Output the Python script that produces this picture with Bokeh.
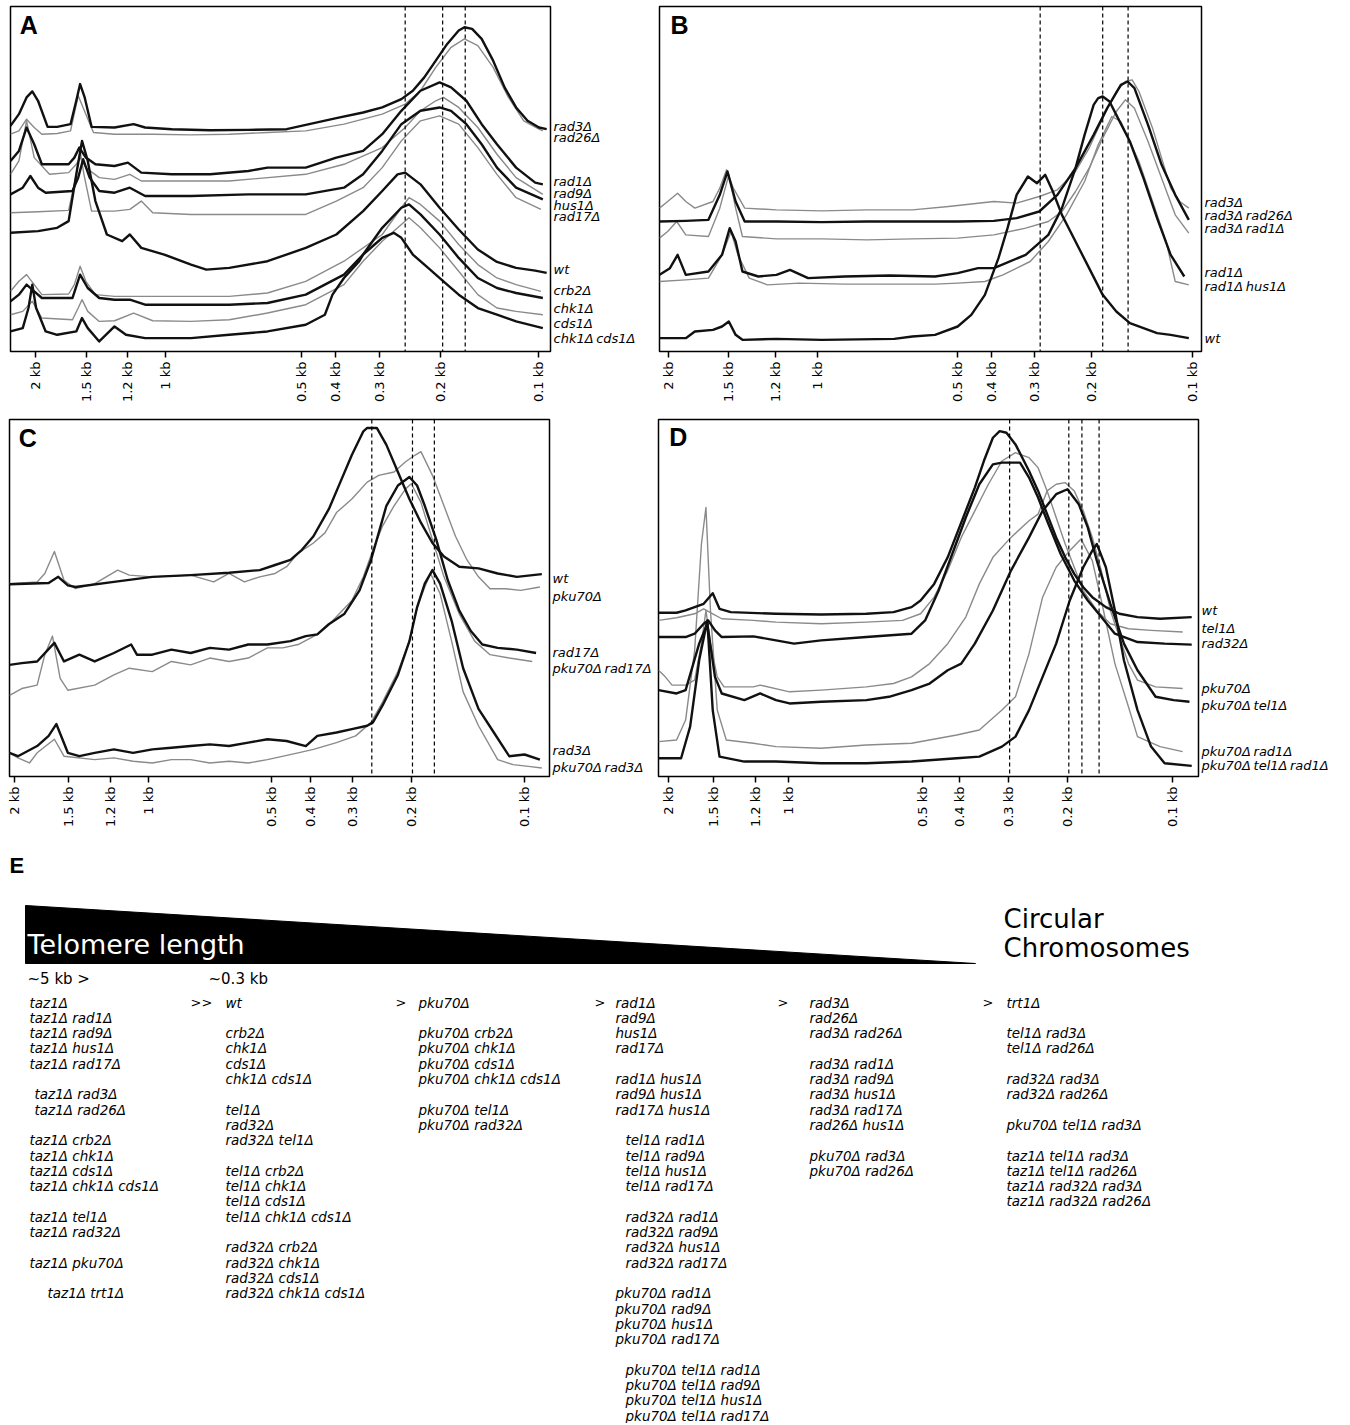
import math
from bokeh.plotting import figure
from bokeh.models import Range1d, LinearAxis, FixedTicker, Span, Label
from bokeh.layouts import column, row
from bokeh.core.properties import value
from bokeh.embed import file_html
from bokeh.resources import INLINE

TS = "\u2009"  # thin space between gene names in trace labels

# ---------------- common axis text ----------------
KB_LABELS = ["2 kb", "1.5 kb", "1.2 kb", "1 kb", "0.5 kb", "0.4 kb", "0.3 kb", "0.2 kb", "0.1 kb"]

# ---------------- Panel A (migration units / densitometry units) ----------------
A_XRANGE = (28, 1440)
A_YRANGE = (0, 1032)
A_KB_POS = [94, 226, 334, 434, 790, 878, 993, 1153, 1408]
A_DASHED = [1060, 1158, 1217]
A_NAMES = ["rad3Δ", "rad26Δ", "rad1Δ", "rad9Δ", "hus1Δ", "rad17Δ", "wt", "crb2Δ", "chk1Δ", "cds1Δ", "chk1Δ" + TS + "cds1Δ"]
A_STYLE = ["k", "g", "k", "g", "k", "g", "k", "g", "k", "g", "k"]
A_LABEL_Y = [672, 640, 510, 472, 438, 405, 246, 182, 128, 84, 40]

a_rad3_x = [28, 50, 70, 85, 100, 125, 150, 185, 200, 210, 222, 240, 300, 350, 380, 450, 550, 650, 750, 880, 950, 1000, 1050, 1080, 1110, 1140, 1170, 1200, 1215, 1235, 1260, 1290, 1320, 1350, 1380, 1410, 1430]
a_rad3_y = [675, 710, 760, 778, 750, 672, 672, 680, 750, 800, 760, 672, 670, 680, 670, 665, 662, 663, 665, 698, 715, 730, 755, 780, 820, 870, 920, 960, 970, 965, 935, 870, 790, 730, 690, 670, 665]
a_rad26_x = [28, 50, 70, 90, 110, 150, 185, 205, 225, 245, 300, 400, 500, 600, 700, 800, 900, 1000, 1060, 1100, 1140, 1180, 1215, 1250, 1290, 1330, 1370, 1410, 1420]
a_rad26_y = [650, 660, 695, 670, 650, 652, 660, 765, 710, 655, 650, 650, 648, 650, 655, 660, 680, 710, 740, 780, 850, 910, 935, 915, 850, 760, 690, 665, 660]
a_rad1_x = [28, 50, 70, 90, 110, 180, 195, 208, 225, 250, 300, 335, 370, 450, 550, 650, 700, 800, 880, 950, 1000, 1050, 1100, 1150, 1180, 1220, 1260, 1300, 1350, 1400, 1420]
a_rad1_y = [570, 600, 670, 620, 560, 560, 580, 610, 580, 560, 555, 565, 535, 530, 530, 540, 550, 550, 580, 600, 650, 720, 780, 805, 790, 750, 680, 620, 550, 505, 500]
a_rad9_x = [28, 50, 70, 90, 130, 180, 200, 210, 225, 260, 300, 340, 370, 450, 600, 800, 900, 1000, 1060, 1100, 1140, 1160, 1200, 1250, 1300, 1350, 1420]
a_rad9_y = [530, 570, 690, 580, 530, 535, 560, 580, 550, 520, 515, 530, 510, 510, 510, 530, 560, 610, 670, 720, 750, 760, 730, 670, 590, 520, 470]
a_hus1_x = [28, 60, 80, 100, 120, 190, 205, 218, 235, 260, 300, 340, 380, 500, 650, 800, 900, 950, 1000, 1050, 1100, 1150, 1180, 1220, 1260, 1300, 1350, 1420]
a_hus1_y = [470, 490, 525, 490, 475, 480, 520, 575, 520, 480, 475, 490, 465, 465, 470, 470, 490, 530, 600, 680, 720, 730, 720, 680, 620, 550, 490, 455]
a_rad17_x = [28, 100, 180, 200, 210, 220, 240, 300, 340, 370, 400, 500, 650, 800, 880, 950, 1000, 1050, 1100, 1150, 1200, 1250, 1300, 1350, 1415]
a_rad17_y = [415, 418, 422, 530, 600, 530, 420, 420, 425, 450, 415, 410, 410, 410, 450, 490, 550, 630, 690, 705, 680, 610, 530, 460, 425]
a_wt_x = [28, 100, 150, 180, 200, 215, 230, 250, 280, 320, 340, 370, 430, 500, 540, 600, 700, 800, 880, 950, 1000, 1040, 1060, 1100, 1150, 1200, 1250, 1300, 1350, 1400, 1430]
a_wt_y = [355, 360, 370, 390, 530, 630, 570, 450, 350, 330, 350, 310, 290, 260, 245, 250, 270, 310, 350, 420, 480, 530, 535, 500, 430, 365, 305, 268, 250, 242, 235]
a_crb2_x = [28, 50, 70, 90, 110, 180, 195, 210, 225, 250, 300, 400, 500, 600, 700, 800, 900, 1000, 1050, 1070, 1100, 1150, 1200, 1250, 1300, 1350, 1415]
a_crb2_y = [180, 210, 230, 200, 170, 172, 200, 255, 210, 170, 165, 165, 165, 165, 175, 210, 270, 350, 430, 460, 440, 390, 320, 260, 220, 200, 180]
a_chk1_x = [28, 50, 70, 90, 110, 190, 210, 230, 260, 300, 340, 380, 500, 600, 700, 800, 900, 950, 1000, 1050, 1070, 1100, 1150, 1200, 1250, 1300, 1350, 1420]
a_chk1_y = [150, 170, 200, 180, 160, 160, 230, 190, 160, 155, 155, 140, 140, 140, 145, 170, 230, 290, 370, 430, 440, 410, 350, 280, 220, 190, 175, 160]
a_cds1_x = [28, 60, 85, 110, 190, 205, 215, 230, 260, 300, 350, 400, 500, 600, 700, 800, 900, 950, 1000, 1050, 1070, 1100, 1150, 1200, 1250, 1300, 1350, 1420]
a_cds1_y = [110, 120, 150, 100, 95, 130, 155, 120, 90, 92, 115, 92, 90, 95, 115, 140, 200, 270, 330, 380, 400, 370, 310, 240, 170, 130, 120, 110]
a_chk1cds1_x = [28, 60, 75, 85, 95, 120, 150, 200, 215, 230, 260, 300, 330, 380, 500, 600, 700, 800, 850, 870, 900, 940, 950, 980, 1000, 1030, 1050, 1080, 1120, 1160, 1200, 1250, 1300, 1350, 1420]
a_chk1cds1_y = [60, 70, 130, 200, 130, 60, 50, 60, 100, 70, 30, 75, 50, 40, 40, 50, 60, 80, 110, 170, 220, 270, 290, 320, 340, 355, 340, 290, 250, 210, 170, 130, 110, 90, 70]

A_SERIES = [(a_rad3_x, a_rad3_y), (a_rad26_x, a_rad26_y), (a_rad1_x, a_rad1_y), (a_rad9_x, a_rad9_y),
            (a_hus1_x, a_hus1_y), (a_rad17_x, a_rad17_y), (a_wt_x, a_wt_y), (a_crb2_x, a_crb2_y),
            (a_chk1_x, a_chk1_y), (a_cds1_x, a_cds1_y), (a_chk1cds1_x, a_chk1cds1_y)]

# ---------------- Panel B ----------------
B_XRANGE = (42, 1238)
B_YRANGE = (0, 1035)
B_KB_POS = [62, 195, 298, 390, 700, 775, 870, 995, 1218]
B_DASHED = [882, 1020, 1076]
B_NAMES = ["rad3Δ", "rad3Δ" + TS + "rad26Δ", "rad3Δ" + TS + "rad1Δ", "rad1Δ", "rad1Δ" + TS + "hus1Δ", "wt"]
B_STYLE = ["g", "k", "g", "k", "g", "k"]
B_LABEL_Y = [448, 408, 368, 238, 195, 40]

b_rad3_x = [42, 60, 82, 100, 120, 160, 175, 190, 205, 230, 300, 400, 500, 600, 680, 780, 830, 880, 920, 960, 990, 1010, 1030, 1050, 1070, 1085, 1100, 1130, 1150, 1170, 1190, 1210]
b_rad3_y = [430, 450, 475, 450, 430, 450, 490, 545, 490, 430, 425, 422, 425, 425, 435, 450, 445, 465, 485, 540, 610, 670, 730, 780, 810, 815, 780, 670, 580, 490, 450, 430]
b_rad3rad26_x = [42, 100, 150, 175, 192, 210, 230, 300, 400, 500, 600, 700, 780, 830, 880, 920, 960, 1000, 1030, 1060, 1075, 1090, 1120, 1150, 1180, 1210]
b_rad3rad26_y = [390, 392, 395, 470, 540, 450, 390, 390, 388, 390, 390, 390, 392, 400, 420, 470, 550, 650, 730, 800, 810, 790, 680, 560, 470, 395]
b_rad3rad1_x = [42, 60, 80, 100, 150, 175, 195, 210, 225, 300, 400, 500, 600, 700, 780, 850, 900, 930, 960, 990, 1020, 1050, 1070, 1090, 1120, 1150, 1180, 1210]
b_rad3rad1_y = [340, 360, 390, 350, 345, 430, 530, 430, 345, 338, 338, 335, 338, 340, 350, 370, 390, 420, 480, 550, 640, 720, 755, 730, 630, 520, 410, 355]
b_rad1_x = [42, 65, 82, 100, 150, 180, 197, 210, 225, 260, 300, 330, 370, 450, 550, 650, 700, 745, 780, 850, 900, 930, 960, 980, 1000, 1010, 1020, 1035, 1050, 1080, 1110, 1140, 1170, 1200]
b_rad1_y = [230, 250, 290, 230, 240, 290, 370, 330, 240, 225, 230, 245, 220, 225, 228, 225, 235, 250, 250, 290, 350, 430, 550, 650, 740, 760, 765, 750, 710, 630, 520, 400, 290, 225]
b_rad1hus1_x = [42, 100, 150, 180, 200, 215, 240, 280, 350, 450, 550, 650, 700, 760, 800, 860, 900, 940, 980, 1010, 1040, 1060, 1100, 1130, 1160, 1180, 1210]
b_rad1hus1_y = [210, 215, 220, 290, 360, 290, 220, 200, 205, 202, 202, 202, 205, 210, 230, 270, 330, 410, 510, 620, 705, 690, 570, 450, 330, 210, 200]
b_wt_x = [42, 100, 120, 160, 180, 195, 210, 225, 300, 400, 560, 600, 650, 700, 730, 760, 790, 810, 830, 855, 875, 893, 910, 930, 960, 990, 1020, 1050, 1080, 1110, 1140, 1170, 1210]
b_wt_y = [40, 40, 60, 65, 75, 90, 50, 35, 38, 35, 38, 45, 50, 75, 110, 170, 280, 370, 470, 525, 505, 530, 480, 410, 330, 250, 170, 120, 85, 70, 55, 50, 40]

B_SERIES = [(b_rad3_x, b_rad3_y), (b_rad3rad26_x, b_rad3rad26_y), (b_rad3rad1_x, b_rad3rad1_y),
            (b_rad1_x, b_rad1_y), (b_rad1hus1_x, b_rad1hus1_y), (b_wt_x, b_wt_y)]

# ---------------- Panel C ----------------
C_XRANGE = (28, 1435)
C_YRANGE = (0, 1055)
C_KB_POS = [40, 183, 292, 390, 710, 812, 922, 1075, 1370]
C_DASHED = [972, 1078, 1135]
C_NAMES = ["wt", "pku70Δ", "rad17Δ", "pku70Δ" + TS + "rad17Δ", "rad3Δ", "pku70Δ" + TS + "rad3Δ"]
C_STYLE = ["k", "g", "k", "g", "k", "g"]
C_LABEL_Y = [585, 532, 365, 320, 76, 28]

c_wt_x = [28, 130, 155, 180, 200, 300, 400, 500, 600, 680, 720, 760, 790, 820, 860, 890, 920, 950, 960, 985, 1010, 1040, 1070, 1100, 1130, 1160, 1200, 1250, 1300, 1350, 1415]
c_wt_y = [568, 572, 590, 565, 560, 575, 590, 595, 602, 610, 625, 640, 670, 710, 790, 870, 950, 1020, 1030, 1030, 980, 900, 820, 750, 690, 650, 620, 615, 600, 590, 598]
c_pku70_x = [28, 100, 120, 145, 170, 200, 250, 310, 340, 400, 500, 560, 600, 640, 680, 720, 750, 780, 820, 850, 880, 920, 960, 990, 1030, 1060, 1085, 1100, 1130, 1160, 1190, 1220, 1250, 1280, 1320, 1360, 1410]
c_pku70_y = [570, 575, 600, 665, 580, 555, 570, 610, 595, 590, 595, 575, 600, 575, 590, 600, 620, 660, 690, 720, 780, 820, 870, 890, 900, 930, 950, 960, 890, 800, 710, 640, 590, 555, 555, 550, 560]
c_rad17_x = [28, 60, 100, 145, 170, 210, 250, 300, 345, 360, 400, 450, 500, 550, 600, 650, 700, 760, 800, 830, 860, 900, 940, 970, 990, 1010, 1040, 1070, 1090, 1110, 1140, 1170, 1200, 1230, 1260, 1300, 1350, 1400]
c_rad17_y = [330, 335, 340, 395, 340, 360, 340, 365, 390, 360, 360, 375, 365, 380, 375, 390, 390, 400, 415, 420, 450, 480, 550, 640, 720, 800, 860, 885, 860, 800, 700, 580, 490, 430, 390, 380, 375, 365]
c_pku70rad17_x = [28, 60, 100, 120, 140, 160, 180, 250, 300, 340, 400, 450, 500, 550, 600, 650, 700, 740, 780, 830, 870, 920, 950, 975, 1000, 1030, 1060, 1075, 1100, 1130, 1160, 1200, 1240, 1280, 1330, 1390]
c_pku70rad17_y = [240, 260, 270, 360, 415, 290, 255, 270, 300, 320, 310, 340, 330, 350, 340, 350, 380, 380, 390, 420, 460, 520, 590, 670, 740, 800, 850, 865, 810, 700, 590, 480, 400, 360, 350, 340]
c_rad3_x = [28, 50, 100, 130, 150, 180, 210, 250, 300, 350, 400, 450, 500, 550, 600, 650, 700, 750, 800, 830, 880, 920, 960, 975, 1000, 1040, 1070, 1090, 1110, 1130, 1150, 1180, 1210, 1250, 1290, 1330, 1370, 1410]
c_rad3_y = [70, 60, 90, 120, 155, 70, 60, 70, 80, 70, 80, 85, 90, 95, 90, 100, 110, 105, 90, 120, 130, 140, 150, 160, 210, 300, 400, 500, 570, 610, 570, 460, 320, 200, 130, 60, 65, 50]
c_pku70rad3_x = [28, 50, 80, 100, 145, 170, 250, 300, 350, 400, 450, 500, 550, 600, 650, 700, 780, 820, 880, 930, 970, 1000, 1040, 1070, 1090, 1110, 1125, 1150, 1180, 1210, 1250, 1300, 1340, 1380, 1415]
c_pku70rad3_y = [70, 55, 40, 70, 110, 60, 50, 55, 45, 40, 50, 50, 40, 45, 40, 50, 70, 80, 100, 120, 160, 220, 310, 400, 500, 560, 600, 540, 400, 250, 150, 50, 35, 30, 25]

C_SERIES = [(c_wt_x, c_wt_y), (c_pku70_x, c_pku70_y), (c_rad17_x, c_rad17_y),
            (c_pku70rad17_x, c_pku70rad17_y), (c_rad3_x, c_rad3_y), (c_pku70rad3_x, c_pku70rad3_y)]

# ---------------- Panel D ----------------
D_XRANGE = (40, 1235)
D_YRANGE = (0, 1075)
D_KB_POS = [62, 162, 255, 327, 625, 705, 815, 945, 1178]
D_DASHED = [817, 948, 977, 1015]
D_NAMES = ["wt", "tel1Δ", "rad32Δ", "pku70Δ", "pku70Δ" + TS + "tel1Δ", "pku70Δ" + TS + "rad1Δ",
           "pku70Δ" + TS + "tel1Δ" + TS + "rad1Δ"]
D_STYLE = ["k", "g", "k", "g", "k", "g", "k"]
D_LABEL_Y = [500, 445, 400, 265, 215, 75, 32]

d_wt_x = [40, 80, 100, 120, 140, 160, 175, 200, 300, 400, 500, 560, 600, 620, 650, 680, 700, 720, 740, 760, 780, 795, 810, 830, 860, 880, 900, 920, 940, 960, 980, 1000, 1030, 1060, 1100, 1150, 1220]
d_wt_y = [493, 493, 500, 510, 520, 552, 505, 495, 490, 488, 490, 495, 510, 530, 580, 660, 730, 800, 870, 950, 1020, 1040, 1035, 1000, 920, 860, 790, 720, 660, 610, 570, 540, 510, 490, 480, 475, 480]
d_tel1_x = [40, 80, 120, 140, 160, 180, 250, 300, 400, 500, 580, 620, 650, 680, 710, 740, 770, 800, 830, 860, 880, 900, 920, 940, 960, 980, 1010, 1040, 1080, 1130, 1200]
d_tel1_y = [470, 478, 490, 505, 490, 475, 470, 465, 460, 465, 470, 490, 540, 620, 720, 800, 880, 950, 975, 960, 930, 860, 780, 700, 630, 560, 500, 460, 445, 440, 435]
d_rad32_x = [40, 100, 120, 140, 150, 165, 180, 250, 300, 340, 400, 500, 600, 630, 660, 690, 720, 750, 780, 800, 840, 860, 880, 900, 930, 960, 990, 1020, 1050, 1100, 1160, 1220]
d_rad32_y = [420, 420, 430, 460, 470, 440, 420, 422, 410, 400, 410, 420, 430, 470, 560, 670, 780, 880, 940, 945, 945, 900, 840, 770, 670, 590, 530, 480, 430, 405, 400, 397]
d_pku70_x = [40, 55, 70, 100, 120, 135, 145, 155, 170, 185, 250, 265, 330, 400, 500, 560, 600, 640, 680, 720, 750, 780, 820, 860, 880, 900, 920, 940, 960, 980, 1000, 1020, 1040, 1060, 1080, 1100, 1140, 1200]
d_pku70_y = [320, 300, 275, 275, 290, 400, 500, 400, 300, 270, 270, 275, 255, 260, 270, 280, 300, 340, 400, 480, 580, 660, 720, 770, 790, 860, 880, 885, 860, 800, 720, 620, 500, 420, 340, 290, 270, 265]
d_pku70tel1_x = [40, 80, 100, 130, 148, 165, 180, 230, 265, 300, 330, 400, 500, 550, 600, 640, 680, 710, 740, 780, 820, 860, 890, 920, 945, 970, 990, 1010, 1040, 1070, 1100, 1140, 1180, 1215]
d_pku70tel1_y = [260, 250, 260, 400, 460, 300, 250, 230, 250, 230, 220, 225, 230, 240, 260, 280, 320, 340, 400, 500, 620, 720, 800, 850, 865, 820, 750, 650, 520, 400, 320, 240, 230, 225]
d_pku70rad1_x = [40, 80, 100, 120, 135, 145, 155, 170, 190, 250, 300, 400, 500, 600, 700, 750, 800, 830, 860, 890, 920, 950, 975, 1000, 1020, 1050, 1080, 1100, 1150, 1200]
d_pku70rad1_y = [105, 110, 170, 380, 700, 810, 500, 200, 110, 100, 90, 85, 95, 100, 125, 140, 200, 240, 370, 540, 630, 680, 715, 650, 530, 340, 210, 120, 90, 75]
d_pku70tel1rad1_x = [40, 90, 110, 130, 148, 160, 175, 230, 300, 400, 500, 600, 700, 750, 800, 830, 860, 890, 920, 950, 980, 1000, 1010, 1030, 1050, 1070, 1100, 1130, 1160, 1220]
d_pku70tel1rad1_y = [55, 55, 150, 350, 470, 200, 60, 45, 45, 40, 40, 45, 55, 60, 90, 120, 200, 300, 400, 530, 630, 680, 700, 630, 500, 350, 200, 90, 40, 32]

D_SERIES = [(d_wt_x, d_wt_y), (d_tel1_x, d_tel1_y), (d_rad32_x, d_rad32_y), (d_pku70_x, d_pku70_y),
            (d_pku70tel1_x, d_pku70tel1_y), (d_pku70rad1_x, d_pku70rad1_y),
            (d_pku70tel1rad1_x, d_pku70tel1rad1_y)]

# ---------------- Panel E text content ----------------
E_HEAD = [("~5 kb >", 27), ("~0.3 kb", 208)]
E_SEPARATORS = [(">>", 190), (">", 395), (">", 594), (">", 777), (">", 982)]
E_COL1 = [(0, ["taz1Δ", "taz1Δ rad1Δ", "taz1Δ rad9Δ", "taz1Δ hus1Δ", "taz1Δ rad17Δ"]),
          (5, ["taz1Δ rad3Δ", "taz1Δ rad26Δ"]),
          (0, ["taz1Δ crb2Δ", "taz1Δ chk1Δ", "taz1Δ cds1Δ", "taz1Δ chk1Δ cds1Δ"]),
          (0, ["taz1Δ tel1Δ", "taz1Δ rad32Δ"]),
          (0, ["taz1Δ pku70Δ"]),
          (18, ["taz1Δ trt1Δ"])]
E_COL2 = [(0, ["wt"]),
          (0, ["crb2Δ", "chk1Δ", "cds1Δ", "chk1Δ cds1Δ"]),
          (0, ["tel1Δ", "rad32Δ", "rad32Δ tel1Δ"]),
          (0, ["tel1Δ crb2Δ", "tel1Δ chk1Δ", "tel1Δ cds1Δ", "tel1Δ chk1Δ cds1Δ"]),
          (0, ["rad32Δ crb2Δ", "rad32Δ chk1Δ", "rad32Δ cds1Δ", "rad32Δ chk1Δ cds1Δ"])]
E_COL3 = [(0, ["pku70Δ"]),
          (0, ["pku70Δ crb2Δ", "pku70Δ chk1Δ", "pku70Δ cds1Δ", "pku70Δ chk1Δ cds1Δ"]),
          (0, ["pku70Δ tel1Δ", "pku70Δ rad32Δ"])]
E_COL4 = [(0, ["rad1Δ", "rad9Δ", "hus1Δ", "rad17Δ"]),
          (0, ["rad1Δ hus1Δ", "rad9Δ hus1Δ", "rad17Δ hus1Δ"]),
          (10, ["tel1Δ rad1Δ", "tel1Δ rad9Δ", "tel1Δ hus1Δ", "tel1Δ rad17Δ"]),
          (10, ["rad32Δ rad1Δ", "rad32Δ rad9Δ", "rad32Δ hus1Δ", "rad32Δ rad17Δ"]),
          (0, ["pku70Δ rad1Δ", "pku70Δ rad9Δ", "pku70Δ hus1Δ", "pku70Δ rad17Δ"]),
          (10, ["pku70Δ tel1Δ rad1Δ", "pku70Δ tel1Δ rad9Δ", "pku70Δ tel1Δ hus1Δ", "pku70Δ tel1Δ rad17Δ"])]
E_COL5 = [(0, ["rad3Δ", "rad26Δ", "rad3Δ rad26Δ"]),
          (0, ["rad3Δ rad1Δ", "rad3Δ rad9Δ", "rad3Δ hus1Δ", "rad3Δ rad17Δ", "rad26Δ hus1Δ"]),
          (0, ["pku70Δ rad3Δ", "pku70Δ rad26Δ"])]
E_COL6 = [(0, ["trt1Δ"]),
          (0, ["tel1Δ rad3Δ", "tel1Δ rad26Δ"]),
          (0, ["rad32Δ rad3Δ", "rad32Δ rad26Δ"]),
          (0, ["pku70Δ tel1Δ rad3Δ"]),
          (0, ["taz1Δ tel1Δ rad3Δ", "taz1Δ tel1Δ rad26Δ", "taz1Δ rad32Δ rad3Δ", "taz1Δ rad32Δ rad26Δ"])]
E_COLUMNS = [(29, E_COL1), (225, E_COL2), (418, E_COL3), (615, E_COL4), (809, E_COL5), (1006, E_COL6)]

# ---------------- styling ----------------
BLACK = "#111111"
GRAY = "#8a8a8a"
FONT = "DejaVu Sans"


def make_panel(letter, xr, yr, kb_pos, dashed, series, styles, names, label_ys,
               width, height, bl, br, bt, bb):
    p = figure(width=width, height=height, x_range=Range1d(*xr), y_range=Range1d(*yr),
               x_axis_location=None, y_axis_location=None, toolbar_location=None,
               output_backend="svg", title=None,
               min_border_left=bl, min_border_right=br, min_border_top=bt, min_border_bottom=bb)
    p.grid.visible = False
    p.outline_line_color = "black"
    p.outline_line_width = 1.5
    p.outline_line_alpha = 1.0
    p.background_fill_color = "white"
    p.border_fill_color = "white"

    for x in dashed:
        p.add_layout(Span(location=x, dimension="height", line_color="black",
                          line_dash="4 3", line_width=1.2))

    # gray traces underneath black ones
    order = [i for i, s in enumerate(styles) if s == "g"] + [i for i, s in enumerate(styles) if s == "k"]
    for i in order:
        xs, ys = series[i]
        if styles[i] == "k":
            p.line(xs, ys, line_color=BLACK, line_width=2.4, line_join="round")
        else:
            p.line(xs, ys, line_color=GRAY, line_width=1.4, line_join="round")

    bottom = LinearAxis(ticker=FixedTicker(ticks=kb_pos),
                        major_label_overrides={k: v for k, v in zip(kb_pos, KB_LABELS)})
    bottom.major_label_orientation = math.pi / 2
    bottom.major_tick_out = 6
    bottom.major_tick_in = 0
    bottom.minor_tick_out = 0
    bottom.minor_tick_in = 0
    bottom.major_tick_line_width = 1.5
    bottom.axis_line_color = None
    bottom.major_label_text_font = FONT
    bottom.major_label_text_font_size = "13px"
    bottom.major_label_text_color = "black"
    bottom.major_label_standoff = 4
    p.add_layout(bottom, "below")

    right = LinearAxis(ticker=FixedTicker(ticks=label_ys),
                       major_label_overrides={k: v for k, v in zip(label_ys, names)})
    right.major_tick_out = 0
    right.major_tick_in = 0
    right.minor_tick_out = 0
    right.minor_tick_in = 0
    right.axis_line_color = None
    right.major_label_text_font = FONT
    right.major_label_text_font_style = "italic"
    right.major_label_text_font_size = "13px"
    right.major_label_text_color = "black"
    right.major_label_standoff = 3
    p.add_layout(right, "right")

    p.add_layout(Label(x=xr[0] + 24, y=yr[1] - 12, text=letter, text_font="Liberation Sans",
                       text_font_style="bold", text_font_size="25px", text_baseline="top",
                       text_align="left", text_color="black"))
    return p


# page has no body margin: borders place the frames where the reference has them
pA = make_panel("A", A_XRANGE, A_YRANGE, A_KB_POS, A_DASHED, A_SERIES, A_STYLE, A_NAMES, A_LABEL_Y,
                657, 418, 10, 107, 6, 67)
pB = make_panel("B", B_XRANGE, B_YRANGE, B_KB_POS, B_DASHED, B_SERIES, B_STYLE, B_NAMES, B_LABEL_Y,
                691, 418, 2, 147, 6, 67)
pC = make_panel("C", C_XRANGE, C_YRANGE, C_KB_POS, C_DASHED, C_SERIES, C_STYLE, C_NAMES, C_LABEL_Y,
                657, 427, 9, 108, 1, 69)
pD = make_panel("D", D_XRANGE, D_YRANGE, D_KB_POS, D_DASHED, D_SERIES, D_STYLE, D_NAMES, D_LABEL_Y,
                691, 427, 1, 150, 1, 69)

# ---------------- Panel E ----------------
E_TOP, E_BOTTOM = 845, 1423
pE = figure(width=1348, height=E_BOTTOM - E_TOP, x_range=Range1d(0, 1348), y_range=Range1d(E_BOTTOM, E_TOP),
            x_axis_location=None, y_axis_location=None, toolbar_location=None, output_backend="svg",
            title=None, min_border=0)
pE.grid.visible = False
pE.outline_line_color = None
pE.background_fill_color = "white"
pE.border_fill_color = "white"

WEDGE_X = [25, 975, 25]
WEDGE_Y = [905, 963, 963]
pE.patch(WEDGE_X, WEDGE_Y, fill_color="black", line_color="black")

pE.text(x=[9], y=[852], text=["E"], text_font=value("Liberation Sans"), text_font_style="bold",
        text_font_size="22px", text_baseline="top", text_color="black")
pE.text(x=[27], y=[944], text=["Telomere length"], text_font=value(FONT), text_font_size="27px",
        text_baseline="middle", text_color="white")
pE.text(x=[1003, 1003], y=[918, 947], text=["Circular", "Chromosomes"], text_font=value(FONT),
        text_font_size="26px", text_baseline="middle", text_color="black")
pE.text(x=[h[1] for h in E_HEAD], y=[978] * len(E_HEAD), text=[h[0] for h in E_HEAD],
        text_font=value(FONT), text_font_size="15px", text_baseline="middle", text_color="black")

ROW0 = 1002
LINE_H = 15.3
pE.text(x=[s[1] for s in E_SEPARATORS], y=[ROW0] * len(E_SEPARATORS), text=[s[0] for s in E_SEPARATORS],
        text_font=value(FONT), text_font_size="13px", text_baseline="middle", text_color="black")

lx, ly, lt = [], [], []
for x0, groups in E_COLUMNS:
    i = 0
    for indent, lines in groups:
        for s in lines:
            lx.append(x0 + indent)
            ly.append(ROW0 + i * LINE_H)
            lt.append(s)
            i += 1
        i += 1
pE.text(x=lx, y=ly, text=lt, text_font=value(FONT), text_font_style="italic", text_font_size="13.5px",
        text_baseline="middle", text_color="black")

layout = column(row(pA, pB), row(pC, pD), pE)

with open("out.html", "w") as f:
    f.write(file_html(layout, INLINE))
